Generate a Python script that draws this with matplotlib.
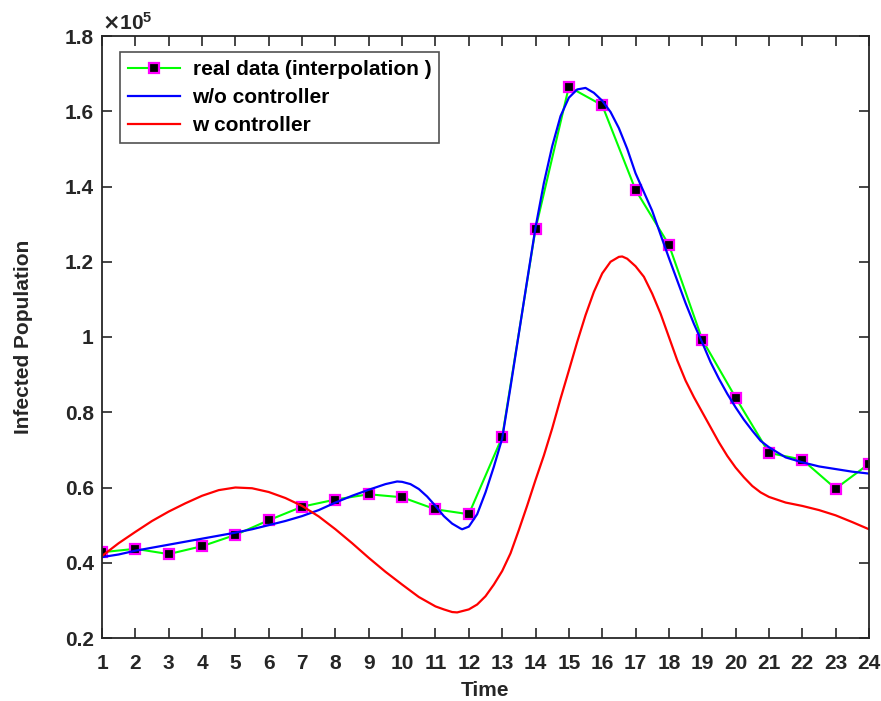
import matplotlib
matplotlib.use("Agg")
import matplotlib.pyplot as plt
from matplotlib.ticker import FuncFormatter, FixedLocator

plt.rcParams['font.family'] = ['Liberation Sans', 'DejaVu Sans']
plt.rcParams['font.weight'] = 'bold'

# real data (units of 1e5)
t_real = list(range(1, 25))
real = [0.428, 0.437, 0.423, 0.444, 0.474, 0.513, 0.549, 0.568, 0.582, 0.574,
        0.542, 0.529, 0.734, 1.287, 1.665, 1.616, 1.391, 1.245, 0.993, 0.839,
        0.692, 0.674, 0.597, 0.663]

# w/o controller (units of 1e5)
t_wo = [1, 1.5, 2, 2.5, 3, 3.5, 4, 4.5, 5, 5.5, 6, 6.5, 7, 7.5, 8, 8.5, 9,
        9.5, 9.85, 10, 10.25, 10.5, 10.75, 11, 11.25, 11.5, 11.75, 11.8, 12,
        12.25, 12.5, 12.75, 13, 13.25, 13.5, 13.75, 14, 14.25, 14.5, 14.75,
        15, 15.25, 15.5, 15.75, 16, 16.25, 16.5, 16.75, 17, 17.25, 17.5,
        17.75, 18, 18.25, 18.5, 18.75, 19, 19.25, 19.5, 19.75, 20, 20.25,
        20.5, 20.75, 21, 21.5, 22, 22.5, 23, 23.5, 24]
wo = [0.415, 0.422, 0.432, 0.440, 0.448, 0.456, 0.464, 0.472, 0.480, 0.489,
      0.500, 0.511, 0.524, 0.540, 0.560, 0.578, 0.594, 0.609, 0.616, 0.615,
      0.609, 0.596, 0.576, 0.551, 0.524, 0.504, 0.491, 0.489, 0.496, 0.529,
      0.587, 0.655, 0.730, 0.867, 1.009, 1.151, 1.291, 1.409, 1.507, 1.587,
      1.636, 1.658, 1.662, 1.649, 1.628, 1.598, 1.555, 1.500, 1.435, 1.385,
      1.335, 1.272, 1.210, 1.150, 1.090, 1.035, 0.985, 0.933, 0.889, 0.849,
      0.813, 0.780, 0.751, 0.724, 0.707, 0.680, 0.667, 0.656, 0.649, 0.642,
      0.637]

# w controller (units of 1e5)
t_w = [1, 1.5, 2, 2.5, 3, 3.5, 4, 4.5, 5, 5.5, 6, 6.5, 7, 7.5, 8, 8.5, 9,
       9.5, 10, 10.5, 11, 11.25, 11.5, 11.65, 12, 12.25, 12.5, 12.75, 13,
       13.25, 13.5, 13.75, 14, 14.25, 14.5, 14.75, 15, 15.25, 15.5, 15.75,
       16, 16.25, 16.5, 16.6, 16.75, 17, 17.25, 17.5, 17.75, 18, 18.25, 18.5,
       18.75, 19, 19.25, 19.5, 19.75, 20, 20.25, 20.5, 20.75, 21, 21.5, 22,
       22.5, 23, 23.5, 24]
w = [0.418, 0.452, 0.482, 0.511, 0.536, 0.558, 0.578, 0.593, 0.600, 0.598,
     0.588, 0.572, 0.551, 0.523, 0.489, 0.452, 0.413, 0.376, 0.342, 0.309,
     0.284, 0.276, 0.269, 0.268, 0.276, 0.289, 0.311, 0.342, 0.378, 0.425,
     0.487, 0.552, 0.620, 0.685, 0.757, 0.836, 0.911, 0.987, 1.058, 1.120,
     1.169, 1.200, 1.213, 1.214, 1.208, 1.188, 1.160, 1.115, 1.062, 1.000,
     0.938, 0.884, 0.840, 0.800, 0.760, 0.720, 0.684, 0.653, 0.627, 0.604,
     0.587, 0.575, 0.560, 0.551, 0.540, 0.526, 0.508, 0.489]

yticks = [0.2, 0.4, 0.6, 0.8, 1.0, 1.2, 1.4, 1.6, 1.8]

fig = plt.figure(figsize=(8.81, 7.01), dpi=100)
ax = fig.add_axes([102/881, 1-638/701, (869-102)/881, (638-36)/701])

ax.plot(t_real, real, color=(0, 1, 0), lw=1.5, marker='s', ms=7,
        mfc='black', mec=(1, 0, 1), mew=1.6, label='real data (interpolation )')
ax.plot(t_wo, wo, color=(0, 0, 1), lw=1.6, label='w/o controller')
ax.plot(t_w, w, color=(1, 0, 0), lw=1.6, label='w controller')

ax.set_xlim(1, 24)
ax.set_ylim(0.2, 1.8)
ax.xaxis.set_major_locator(FixedLocator(t_real))
ax.yaxis.set_major_locator(FixedLocator(yticks))
ax.yaxis.set_major_formatter(FuncFormatter(lambda v, p: '%g' % round(v, 2)))
ax.tick_params(direction='in', top=True, right=True, length=7, width=1.2,
               labelsize=15, color='#262626', labelcolor='#262626')
ax.tick_params(axis='x', pad=11.5)
ax.tick_params(axis='y', pad=6)
for lab in ax.get_xticklabels() + ax.get_yticklabels():
    lab.set_fontweight('bold')
for s in ax.spines.values():
    s.set_linewidth(1.3)
    s.set_color('#262626')

ax.set_xlabel('Time', fontsize=15, fontweight='bold', color='#262626', labelpad=6)
ax.set_ylabel('Infected Population', fontsize=15, fontweight='bold',
              color='#262626', labelpad=23)
ax.text(0.0, 1.003, r'$\times\mathregular{10^{5}}$', transform=ax.transAxes,
        fontsize=15, color='#262626', ha='left', va='bottom')

leg = ax.legend(loc='upper left', bbox_to_anchor=(0.0235, 0.9734), fontsize=15,
                frameon=True, fancybox=False, borderpad=0.4, labelspacing=0.42,
                handlelength=2.5, handletextpad=0.58, borderaxespad=0)
leg.get_frame().set_edgecolor('#262626')
leg.get_frame().set_linewidth(1.2)
for txt in leg.get_texts():
    txt.set_fontweight('bold')

fig.savefig('out.png', dpi=100)
